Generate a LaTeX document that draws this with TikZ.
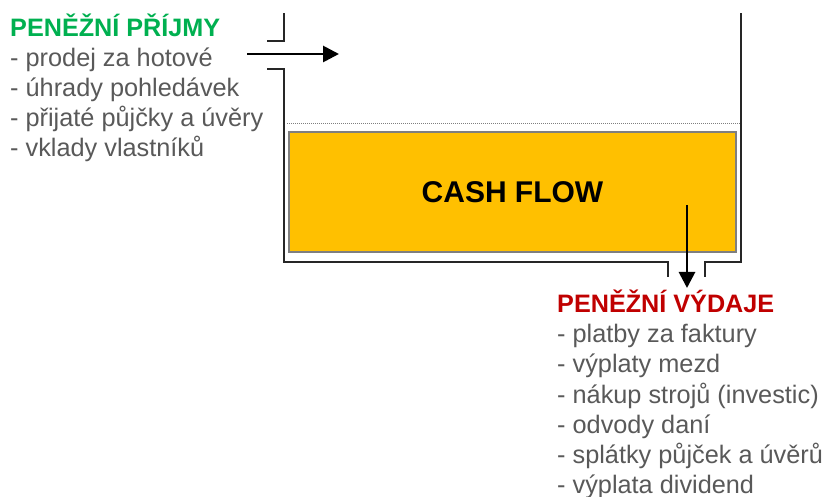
\documentclass[tikz,border=0pt]{standalone}
\usepackage{fontspec}
\setmainfont{Liberation Sans}
\usetikzlibrary{arrows.meta}
\definecolor{inflow}{HTML}{00B050}
\definecolor{outflow}{HTML}{C00000}
\definecolor{itemgray}{HTML}{595959}
\definecolor{cashfill}{HTML}{FFC000}
\definecolor{wallgray}{HTML}{262626}
\definecolor{rimgray}{HTML}{7F7F7F}
\begin{document}
\begin{tikzpicture}[x=1pt,y=-1pt,
  wall/.style={draw=wallgray,line width=2pt},
  flowarrow/.style={draw=black,line width=2.8pt,-{Triangle[length=16pt,width=16pt]}},
  heading/.style={anchor=base west,inner sep=0pt,font=\fontsize{25.2}{29}\selectfont\bfseries},
  item/.style={anchor=base west,inner sep=0pt,text=itemgray,font=\fontsize{25.3}{29}\selectfont},
  tank/.style={draw=rimgray,line width=2.5pt,fill=cashfill,inner sep=0pt}]
\useasboundingbox (0,0) rectangle (823,497);

% tank walls with inlet and outlet gaps
\draw[wall] (267,41) -- (284,41) -- (284,13);
\draw[wall] (267,69) -- (284,69) -- (284,262) -- (668,262) -- (668,277);
\draw[wall] (705,277) -- (705,262) -- (741,262) -- (741,13);

% fill level
\draw[rimgray,line width=1pt,dash pattern=on 1pt off 1pt] (287,124) -- (741,124);

% cash in the tank
\node[tank,minimum width=447pt,minimum height=120pt] (cash) at (512.5,192)
  {\fontsize{30}{34}\selectfont\bfseries CASH FLOW};

% flows
\coordinate (inStart) at (247,54);
\coordinate (inEnd) at (339,54);
\coordinate (outStart) at (687,205);
\coordinate (outEnd) at (687,288);
\draw[flowarrow] (inStart) -- (inEnd);
\draw[flowarrow] (outStart) -- (outEnd);

% receipts
\node[heading,text=inflow] (rcpt) at (10,37) {PENĚŽNÍ PŘÍJMY};
\node[item] (r1) at (10,67) {- prodej za hotové};
\node[item] (r2) at (10,97) {- úhrady pohledávek};
\node[item] (r3) at (10,127) {- přijaté půjčky a úvěry};
\node[item] (r4) at (10,157) {- vklady vlastníků};

% expenditures
\node[heading,text=outflow] (expd) at (557,313) {PENĚŽNÍ VÝDAJE};
\node[item] (e1) at (557,343) {- platby za faktury};
\node[item] (e2) at (557,373) {- výplaty mezd};
\node[item] (e3) at (557,403) {- nákup strojů (investic)};
\node[item] (e4) at (557,433) {- odvody daní};
\node[item] (e5) at (557,463) {- splátky půjček a úvěrů};
\node[item] (e6) at (557,493) {- výplata dividend};
\end{tikzpicture}
\end{document}
